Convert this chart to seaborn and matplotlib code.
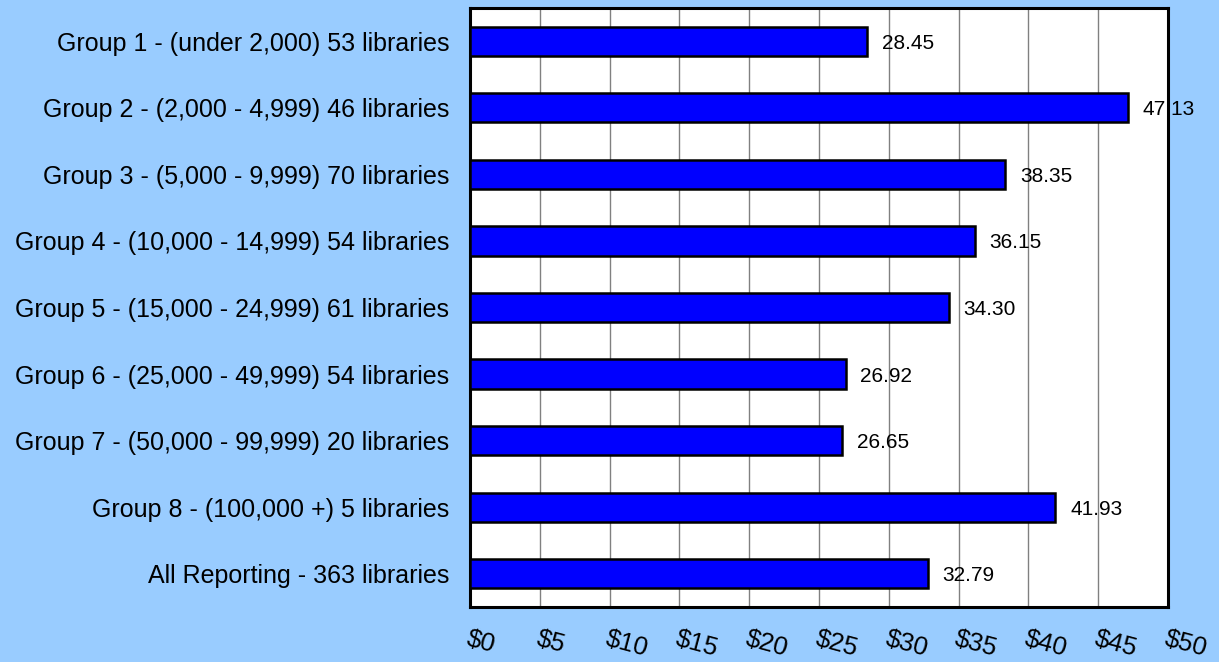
import pandas as pd
import matplotlib
matplotlib.use("Agg")
import matplotlib.pyplot as plt
import seaborn as sns

groups = [
    "Group 1 - (under 2,000) 53 libraries",
    "Group 2 - (2,000 - 4,999) 46 libraries",
    "Group 3 - (5,000 - 9,999) 70 libraries",
    "Group 4 - (10,000 - 14,999) 54 libraries",
    "Group 5 - (15,000 - 24,999) 61 libraries",
    "Group 6 - (25,000 - 49,999) 54 libraries",
    "Group 7 - (50,000 - 99,999) 20 libraries",
    "Group 8 - (100,000 +) 5 libraries",
    "All Reporting - 363 libraries",
]
amounts = [28.45, 47.13, 38.35, 36.15, 34.30, 26.92, 26.65, 41.93, 32.79]
ticks = [0, 5, 10, 15, 20, 25, 30, 35, 40, 45, 50]

df = pd.DataFrame({"Group": groups, "Amount": amounts})

sns.set_style("white")
plt.rcParams["font.family"] = ["Liberation Sans", "DejaVu Sans"]
plt.rcParams["text.color"] = "black"
plt.rcParams["xtick.color"] = "black"
plt.rcParams["ytick.color"] = "black"

bg = "#99CCFF"
fig = plt.figure(figsize=(12.19, 6.62), dpi=100, facecolor=bg)
ax = fig.add_axes([470 / 1219, 55 / 662, 698 / 1219, 599 / 662])
ax.set_facecolor("white")

sns.barplot(data=df, x="Amount", y="Group", orient="h", color="#0000FF",
            saturation=1, width=0.44, edgecolor="black", linewidth=1.8, ax=ax, zorder=3)

ax.set_xlim(0, 50)
ax.set_xticks(ticks)
ax.set_xticklabels([f"${t}" for t in ticks], rotation=-15, ha="left",
                   rotation_mode="anchor", fontsize=18.5)
ax.tick_params(axis="x", length=0, pad=14)
ax.tick_params(axis="y", length=0, pad=15, labelsize=18)
ax.set_xlabel("")
ax.set_ylabel("")
ax.grid(axis="x", color="#808080", linewidth=1, zorder=0)
ax.set_axisbelow(True)
for s in ax.spines.values():
    s.set_visible(True)
    s.set_color("black")
    s.set_linewidth(2.2)

for i, v in enumerate(amounts):
    ax.text(v + 1.05, i, f"{v:.2f}", va="center_baseline", ha="left", fontsize=15,
            color="black", zorder=5, clip_on=False)

fig.savefig("out.png", dpi=100, facecolor=bg)
